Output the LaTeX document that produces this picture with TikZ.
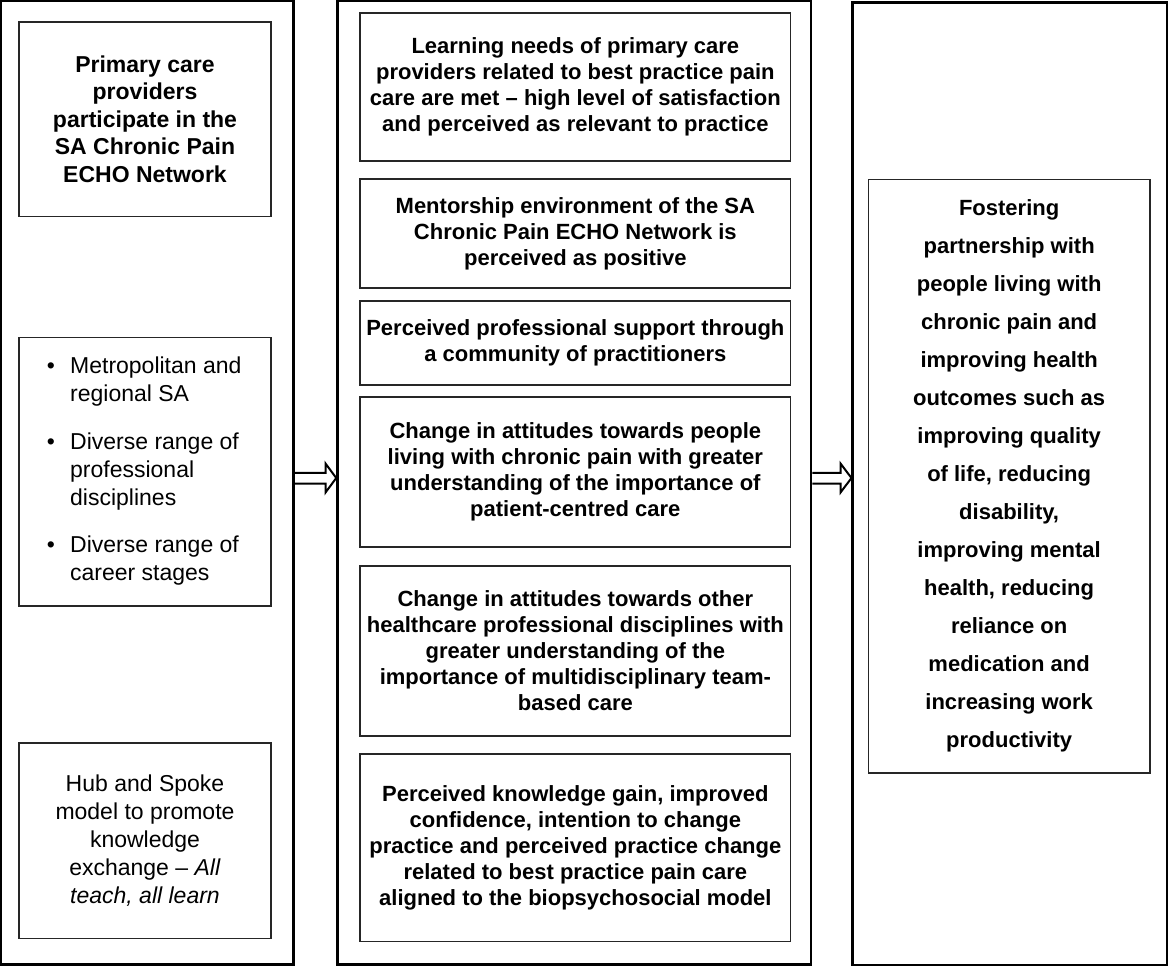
\documentclass[tikz,border=0pt]{standalone}
\usepackage{fontspec}
\setmainfont{Liberation Sans}
\usepackage{array}
\begin{document}
\begin{tikzpicture}[x=1pt,y=-1pt,
  colbox/.style={draw=black, line width=2.5pt, inner sep=0pt, fill=white},
  inbox/.style={draw=black!85, line width=1.3pt, inner sep=0pt, align=center},
  bmid/.style={font=\fontsize{22}{26}\selectfont\bfseries},
  blft/.style={font=\fontsize{23}{27.5}\selectfont\bfseries},
  brgt/.style={font=\fontsize{22}{38}\selectfont\bfseries},
  rlft/.style={font=\fontsize{23}{28}\selectfont},
  blockarr/.style={draw=black, line width=2pt, line join=miter}
]
\useasboundingbox (0,0) rectangle (1169,967);
% columns
\node[colbox, minimum width=292.1pt, minimum height=963.5pt] (L) at (147.25,482.95) {};
\node[colbox, minimum width=473.5pt, minimum height=963.3pt] (M) at (574.25,482.85) {};
\node[colbox, minimum width=314.5pt, minimum height=962.5pt] (R) at (1009.95,483.75) {};
% left boxes
\node[inbox, blft, minimum width=252pt, minimum height=194.5pt] (L1) at (145,119.25)
  {Primary care\\providers\\participate in the\\SA Chronic Pain\\ECHO Network};
\node[inbox, rlft, minimum width=252pt, minimum height=268.5pt] (L2) at (145,471.75)
  {\begin{tabular}{@{\hspace{17pt}}l@{\hspace{15.3pt}}p{190pt}@{}}
   \textbullet & Metropolitan and\\
               & regional SA\\[20pt]
   \textbullet & Diverse range of\\
               & professional\\
               & disciplines\\[19pt]
   \textbullet & Diverse range of\\
               & career stages
   \end{tabular}};
\node[inbox, rlft, minimum width=252pt, minimum height=195.5pt] (L3) at (145,840.75)
  {Hub and Spoke\\model to promote\\knowledge\\exchange -- \textit{All}\\\textit{teach, all learn}};
% middle boxes
\node[inbox, bmid, minimum width=430.7pt, minimum height=148pt] (M1) at (575.35,87)
  {Learning needs of primary care\\providers related to best practice pain\\care are met -- high level of satisfaction\\and perceived as relevant to practice};
\node[inbox, bmid, minimum width=430.7pt, minimum height=109pt] (M2) at (575.35,233.5)
  {Mentorship environment of the SA\\Chronic Pain ECHO Network is\\perceived as positive};
\node[inbox, bmid, minimum width=430.7pt, minimum height=84pt] (M3) at (575.35,343)
  {Perceived professional support through\\a community of practitioners};
\node[inbox, bmid, minimum width=430.7pt, minimum height=150pt] (M4) at (575.35,472)
  {Change in attitudes towards people\\living with chronic pain with greater\\understanding of the importance of\\patient-centred care};
\node[inbox, bmid, minimum width=430.7pt, minimum height=170pt] (M5) at (575.35,651)
  {Change in attitudes towards other\\healthcare professional disciplines with\\greater understanding of the\\importance of multidisciplinary team-\\based care};
\node[inbox, bmid, minimum width=430.7pt, minimum height=187.5pt] (M6) at (575.35,847.75)
  {Perceived knowledge gain, improved\\confidence, intention to change\\practice and perceived practice change\\related to best practice pain care\\aligned to the biopsychosocial model};
% right box
\node[inbox, brgt, minimum width=281.7pt, minimum height=593.5pt] (R1) at (1009.15,476.25)
  {Fostering\\partnership with\\people living with\\chronic pain and\\improving health\\outcomes such as\\improving quality\\of life, reducing\\disability,\\improving mental\\health, reducing\\reliance on\\medication and\\increasing work\\productivity};
% arrows
\draw[blockarr] (L.east |- 0,472.8) -- (325.5,472.8) -- (325.5,463.5) -- (M.west |- 0,478)
  -- (325.5,492.5) -- (325.5,483.5) -- (L.east |- 0,483.5);
\draw[blockarr] (M.east |- 0,472.8) -- (840.5,472.8) -- (840.5,463.5) -- (R.west |- 0,478)
  -- (840.5,492.5) -- (840.5,483.5) -- (M.east |- 0,483.5);
\end{tikzpicture}
\end{document}
